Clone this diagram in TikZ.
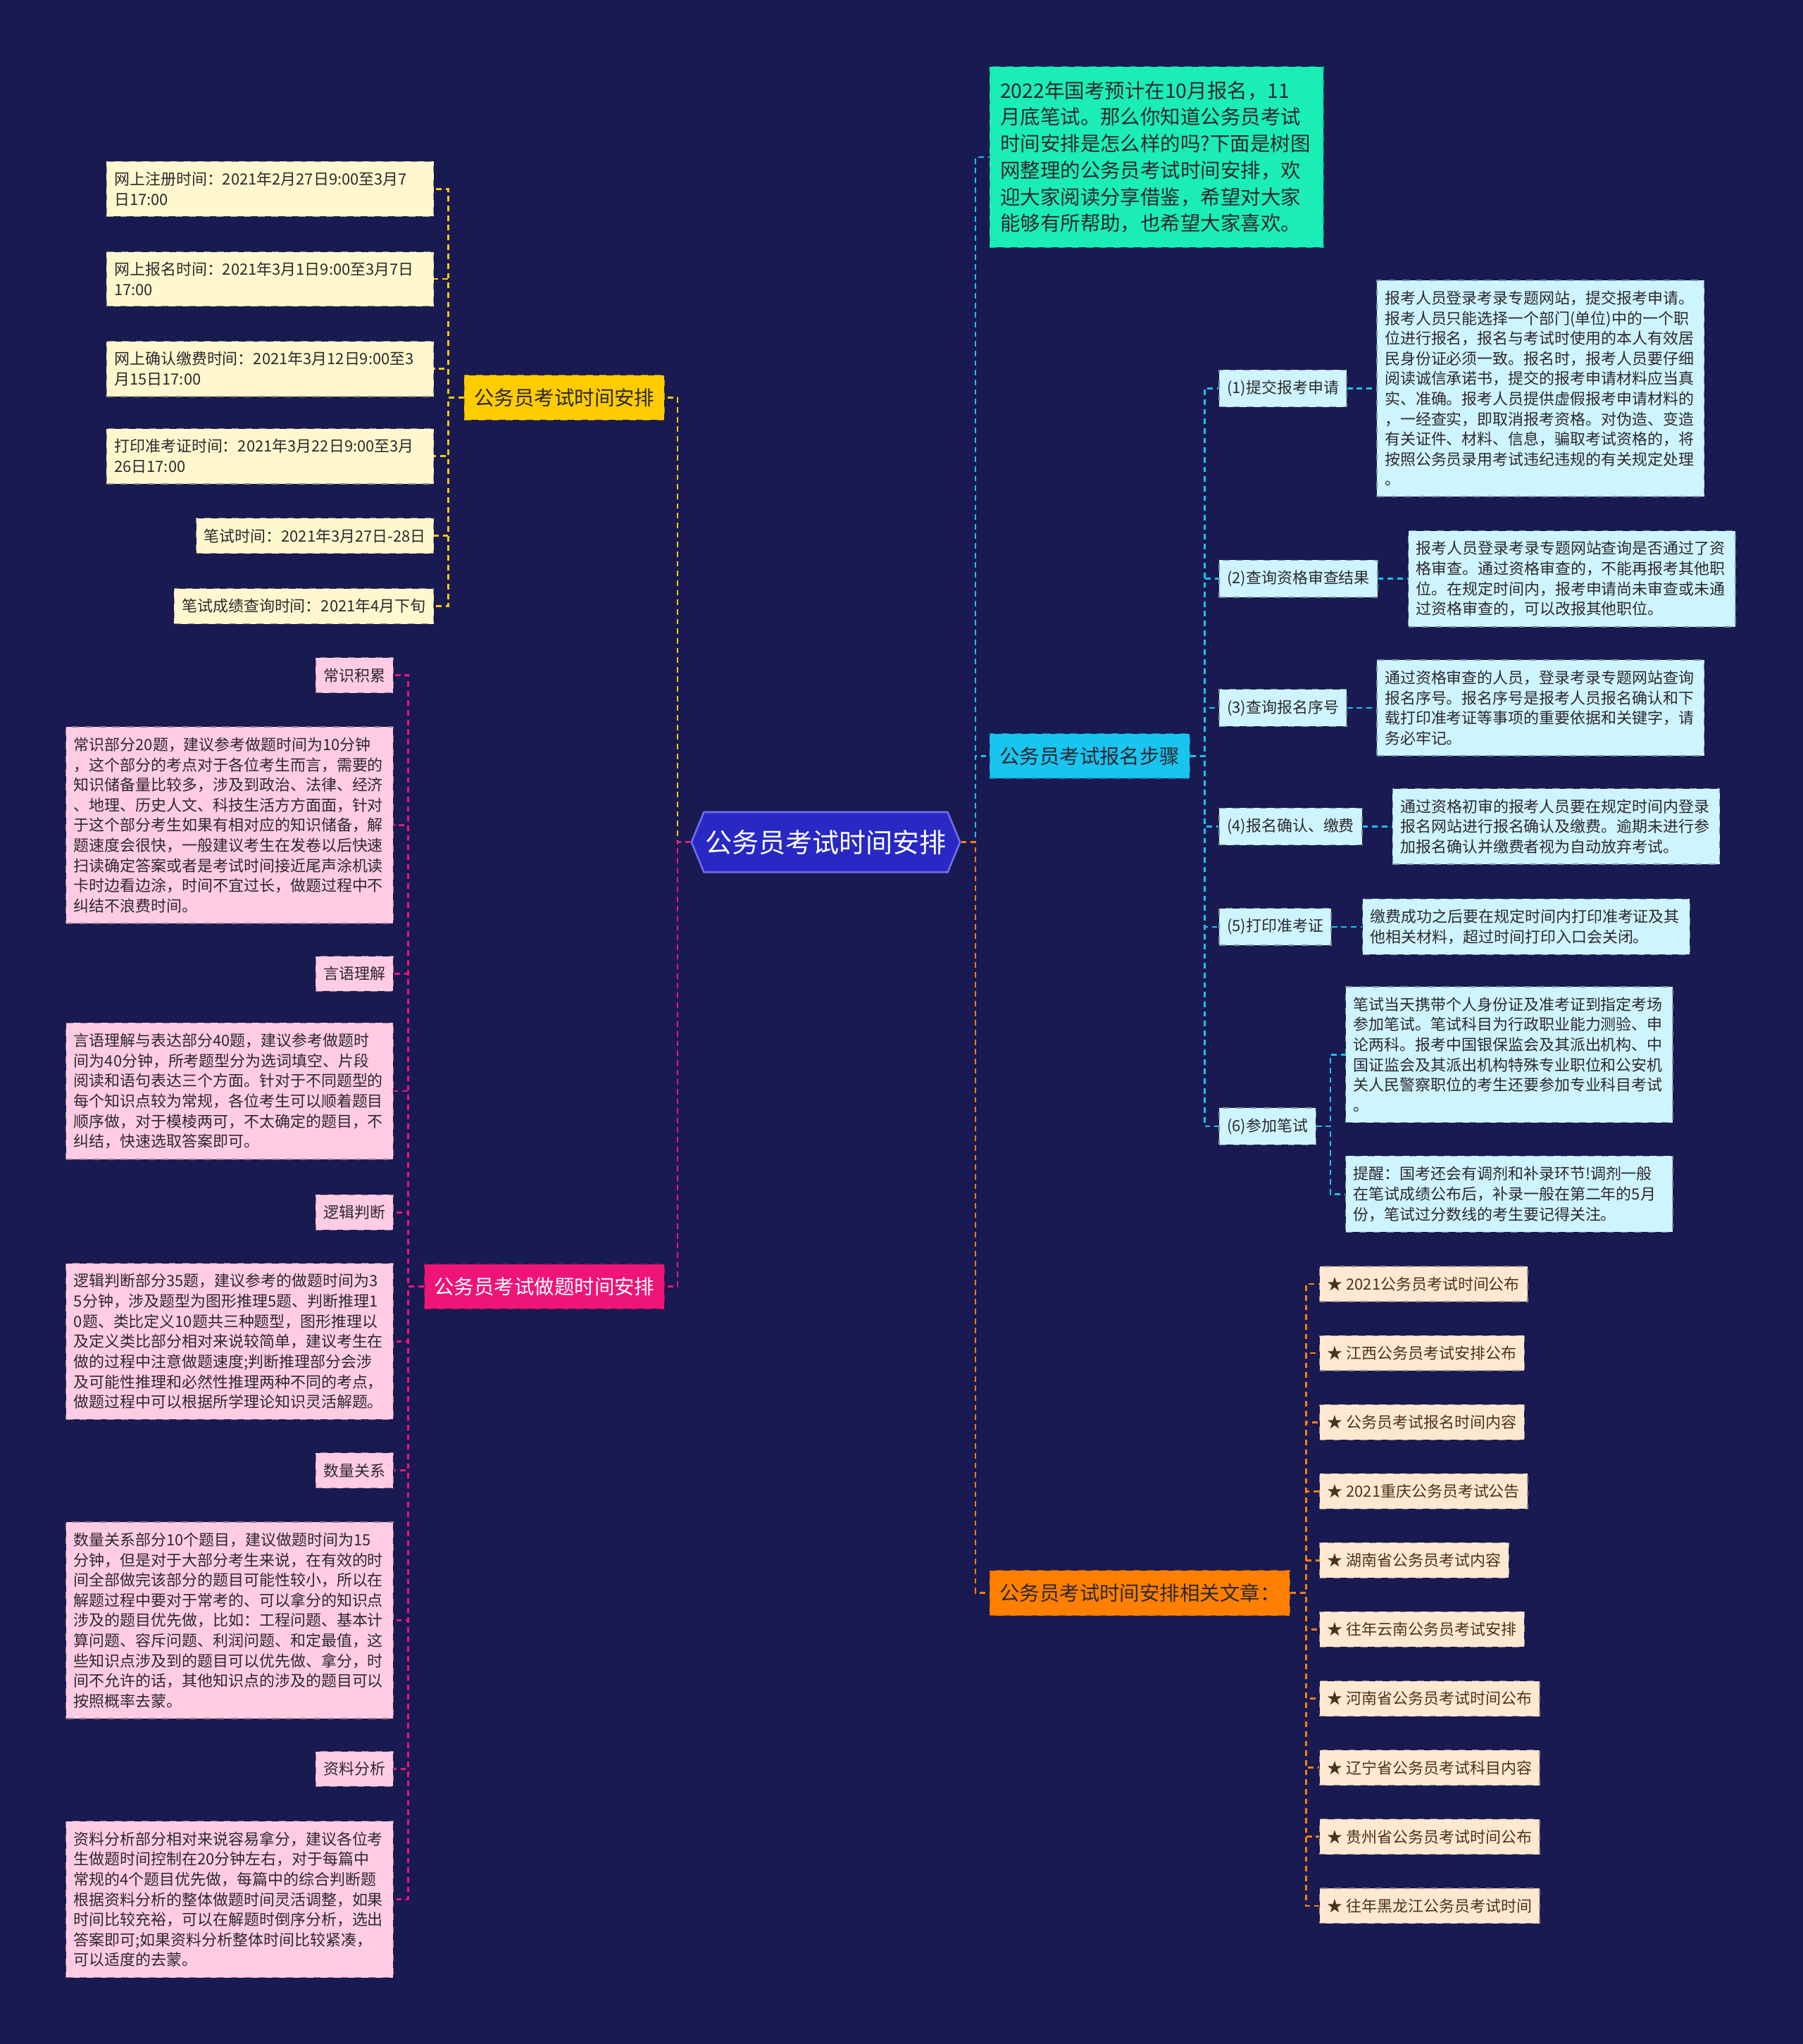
\documentclass[tikz,border=0pt]{standalone}
\usepackage{fontspec}
\setmainfont{Noto Sans CJK SC}
\usepackage{tikz}
\usetikzlibrary{shapes.symbols, positioning}
\definecolor{MapBg}{RGB}{26,26,82}
\definecolor{RootBlue}{RGB}{40,40,196}
\definecolor{RootEdge}{RGB}{110,110,235}
\definecolor{BrYellow}{RGB}{255,204,0}
\definecolor{BrPink}{RGB}{238,20,120}
\definecolor{BrCyan}{RGB}{24,196,240}
\definecolor{BrOrange}{RGB}{255,128,0}
\definecolor{IntroTeal}{RGB}{26,238,182}
\definecolor{LfYellow}{RGB}{255,248,206}
\definecolor{LfPink}{RGB}{255,204,228}
\definecolor{LfCyan}{RGB}{206,244,255}
\definecolor{LfOrange}{RGB}{255,232,210}
\definecolor{InkDark}{RGB}{45,40,45}

\begin{document}
\begin{tikzpicture}[x=0.02cm, y=-0.02cm,
          leaf/.style={rectangle, fill=#1, draw=#1!60!black, dashed, line width=0.4pt,
                       font=\fontsize{6.75pt}{8.8pt}\selectfont, text=InkDark,
                       inner xsep=0.12cm, inner ysep=0.16cm, align=left},
          wide/.style={text width=4.78cm},
          branch/.style={rectangle, fill=#1, draw=#1!70!black, dashed, line width=0.4pt,
                       font=\fontsize{8.75pt}{11.6pt}\selectfont, text=InkDark,
                       inner xsep=0.15cm, inner ysep=0.2cm},
          conn/.style={draw=#1, line width=0.8pt, dash pattern=on 2.4pt off 1.8pt}
        ]
        \useasboundingbox (0,0) rectangle (1383,1568);
        \fill[MapBg] (0,0) rectangle (1383,1568);

        % Root
        \node[signal, signal to=west and east, signal pointer angle=135,
              fill=RootBlue, draw=RootEdge, line width=0.8pt, text=white,
              font=\fontsize{11.7pt}{14pt}\selectfont,
              inner xsep=0.02cm, inner ysep=0.27cm] (root) at (633.5,646) {公务员考试时间安排};

        % Branches
        \node[branch=BrYellow, anchor=east] (ybr) at (510,305) {公务员考试时间安排};
        \node[branch=BrPink, text=white, anchor=east] (pbr) at (510,987) {公务员考试做题时间安排};
        \node[branch=BrCyan, anchor=west] (cbr) at (759,580) {公务员考试报名步骤};
        \node[branch=BrOrange, anchor=west] (obr) at (759,1222) {公务员考试时间安排相关文章：};
        \node[branch=IntroTeal, anchor=west, text width=4.8cm, align=left,
              inner xsep=0.16cm, inner ysep=0.22cm] (intro) at (759,120.5)
              {2022年国考预计在10月报名，11\\月底笔试。那么你知道公务员考试\\时间安排是怎么样的吗?下面是树图\\网整理的公务员考试时间安排，欢\\迎大家阅读分享借鉴，希望对大家\\能够有所帮助，也希望大家喜欢。};

        % Time schedule
        \node[leaf=LfYellow, wide, anchor=east] (y1) at (333,145) {网上注册时间：2021年2月27日9:00至3月7\\日17:00};
        \node[leaf=LfYellow, wide, anchor=east] (y2) at (333,214) {网上报名时间：2021年3月1日9:00至3月7日\\17:00};
        \node[leaf=LfYellow, wide, anchor=east] (y3) at (333,283) {网上确认缴费时间：2021年3月12日9:00至3\\月15日17:00};
        \node[leaf=LfYellow, wide, anchor=east] (y4) at (333,350) {打印准考证时间：2021年3月22日9:00至3月\\26日17:00};
        \node[leaf=LfYellow, anchor=east] (y5) at (333,411) {笔试时间：2021年3月27日-28日};
        \node[leaf=LfYellow, anchor=east] (y6) at (333,465) {笔试成绩查询时间：2021年4月下旬};

        % Answering time
        \node[leaf=LfPink, anchor=east] (p1) at (302,518) {常识积累};
        \node[leaf=LfPink, wide, anchor=east] (p2) at (302,633)
              {常识部分20题，建议参考做题时间为10分钟\\，这个部分的考点对于各位考生而言，需要的\\知识储备量比较多，涉及到政治、法律、经济\\、地理、历史人文、科技生活方方面面，针对\\于这个部分考生如果有相对应的知识储备，解\\题速度会很快，一般建议考生在发卷以后快速\\扫读确定答案或者是考试时间接近尾声涂机读\\卡时边看边涂，时间不宜过长，做题过程中不\\纠结不浪费时间。};
        \node[leaf=LfPink, anchor=east] (p3) at (302,747) {言语理解};
        \node[leaf=LfPink, wide, anchor=east] (p4) at (302,837)
              {言语理解与表达部分40题，建议参考做题时\\间为40分钟，所考题型分为选词填空、片段\\阅读和语句表达三个方面。针对于不同题型的\\每个知识点较为常规，各位考生可以顺着题目\\顺序做，对于模棱两可，不太确定的题目，不\\纠结，快速选取答案即可。};
        \node[leaf=LfPink, anchor=east] (p5) at (302,930) {逻辑判断};
        \node[leaf=LfPink, wide, anchor=east] (p6) at (302,1029)
              {逻辑判断部分35题，建议参考的做题时间为3\\5分钟，涉及题型为图形推理5题、判断推理1\\0题、类比定义10题共三种题型，图形推理以\\及定义类比部分相对来说较简单，建议考生在\\做的过程中注意做题速度;判断推理部分会涉\\及可能性推理和必然性推理两种不同的考点，\\做题过程中可以根据所学理论知识灵活解题。};
        \node[leaf=LfPink, anchor=east] (p7) at (302,1128) {数量关系};
        \node[leaf=LfPink, wide, anchor=east] (p8) at (302,1243)
              {数量关系部分10个题目，建议做题时间为15\\分钟，但是对于大部分考生来说，在有效的时\\间全部做完该部分的题目可能性较小，所以在\\解题过程中要对于常考的、可以拿分的知识点\\涉及的题目优先做，比如：工程问题、基本计\\算问题、容斥问题、利润问题、和定最值，这\\些知识点涉及到的题目可以优先做、拿分，时\\间不允许的话，其他知识点的涉及的题目可以\\按照概率去蒙。};
        \node[leaf=LfPink, anchor=east] (p9) at (302,1357) {资料分析};
        \node[leaf=LfPink, wide, anchor=east] (p10) at (302,1457)
              {资料分析部分相对来说容易拿分，建议各位考\\生做题时间控制在20分钟左右，对于每篇中\\常规的4个题目优先做，每篇中的综合判断题\\根据资料分析的整体做题时间灵活调整，如果\\时间比较充裕，可以在解题时倒序分析，选出\\答案即可;如果资料分析整体时间比较紧凑，\\可以适度的去蒙。};

        % Registration steps
        \node[leaf=LfCyan, anchor=west] (c1) at (935,298) {(1)提交报考申请};
        \node[leaf=LfCyan, anchor=west] (c2) at (935,444) {(2)查询资格审查结果};
        \node[leaf=LfCyan, anchor=west] (c3) at (935,543) {(3)查询报名序号};
        \node[leaf=LfCyan, anchor=west] (c4) at (935,634) {(4)报名确认、缴费};
        \node[leaf=LfCyan, anchor=west] (c5) at (935,711) {(5)打印准考证};
        \node[leaf=LfCyan, anchor=west] (c6) at (935,864) {(6)参加笔试};
        \node[leaf=LfCyan, wide, anchor=west] (d1) at (1056,298)
              {报考人员登录考录专题网站，提交报考申请。\\报考人员只能选择一个部门(单位)中的一个职\\位进行报名，报名与考试时使用的本人有效居\\民身份证必须一致。报名时，报考人员要仔细\\阅读诚信承诺书，提交的报考申请材料应当真\\实、准确。报考人员提供虚假报考申请材料的\\，一经查实，即取消报考资格。对伪造、变造\\有关证件、材料、信息，骗取考试资格的，将\\按照公务员录用考试违纪违规的有关规定处理\\。};
        \node[leaf=LfCyan, wide, anchor=west] (d2) at (1080,444)
              {报考人员登录考录专题网站查询是否通过了资\\格审查。通过资格审查的，不能再报考其他职\\位。在规定时间内，报考申请尚未审查或未通\\过资格审查的，可以改报其他职位。};
        \node[leaf=LfCyan, wide, anchor=west] (d3) at (1056,543)
              {通过资格审查的人员，登录考录专题网站查询\\报名序号。报名序号是报考人员报名确认和下\\载打印准考证等事项的重要依据和关键字，请\\务必牢记。};
        \node[leaf=LfCyan, wide, anchor=west] (d4) at (1068,634)
              {通过资格初审的报考人员要在规定时间内登录\\报名网站进行报名确认及缴费。逾期未进行参\\加报名确认并缴费者视为自动放弃考试。};
        \node[leaf=LfCyan, wide, anchor=west] (d5) at (1045,711)
              {缴费成功之后要在规定时间内打印准考证及其\\他相关材料，超过时间打印入口会关闭。};
        \node[leaf=LfCyan, wide, anchor=west] (d6) at (1032,809)
              {笔试当天携带个人身份证及准考证到指定考场\\参加笔试。笔试科目为行政职业能力测验、申\\论两科。报考中国银保监会及其派出机构、中\\国证监会及其派出机构特殊专业职位和公安机\\关人民警察职位的考生还要参加专业科目考试\\。};
        \node[leaf=LfCyan, wide, anchor=west] (d7) at (1032,916)
              {提醒：国考还会有调剂和补录环节!调剂一般\\在笔试成绩公布后，补录一般在第二年的5月\\份，笔试过分数线的考生要记得关注。};

        % Related articles
        \foreach \t [count=\i] in {2021公务员考试时间公布, 江西公务员考试安排公布,
                   公务员考试报名时间内容, 2021重庆公务员考试公告, 湖南省公务员考试内容,
                   往年云南公务员考试安排, 河南省公务员考试时间公布, 辽宁省公务员考试科目内容,
                   贵州省公务员考试时间公布, 往年黑龙江公务员考试时间}
          \node[leaf=LfOrange, text=brown!40!black, anchor=west] (o\i) at (1012,932+53*\i) {★ \t};

        % Connectors
        \draw[conn=BrYellow] (root.west) -- ++(-10,0) |- (ybr.east);
        \draw[conn=BrPink] (root.west) -- ++(-10,0) |- (pbr.east);
        \draw[conn=BrCyan] (root.east) -- ++(11,0) |- (intro.west);
        \draw[conn=BrCyan] (root.east) -- ++(11,0) |- (cbr.west);
        \draw[conn=BrOrange] (root.east) -- ++(11,0) |- (obr.west);
        \foreach \i in {1,...,6}
          \draw[conn=BrYellow] (ybr.west) -- ++(-12,0) |- (y\i.east);
        \foreach \i in {1,...,10}
          \draw[conn=BrPink] (pbr.west) -- ++(-12,0) |- (p\i.east);
        \foreach \i in {1,...,6}
          \draw[conn=BrCyan] (cbr.east) -- ++(11,0) |- (c\i.west);
        \foreach \i in {1,...,5}
          \draw[conn=BrCyan] (c\i.east) -- (d\i.west);
        \draw[conn=BrCyan] (c6.east) -- ++(11,0) |- (d6.west);
        \draw[conn=BrCyan] (c6.east) -- ++(11,0) |- (d7.west);
        \foreach \i in {1,...,10}
          \draw[conn=BrOrange] (obr.east) -- ++(12,0) |- (o\i.west);
      \end{tikzpicture}
\end{document}
